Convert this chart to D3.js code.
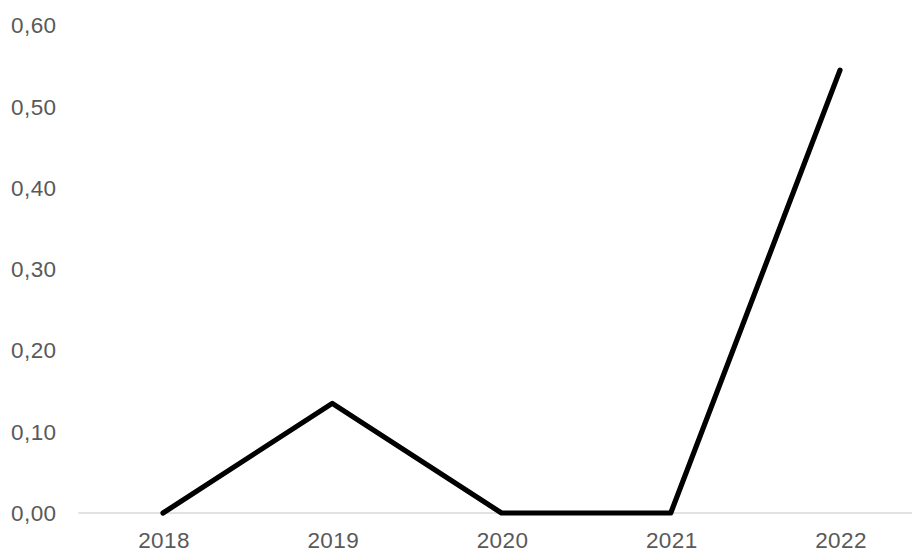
<!DOCTYPE html>
<html>
<head>
<meta charset="utf-8">
<script src="https://cdn.jsdelivr.net/npm/d3@7"></script>
<style>
  html, body { margin: 0; padding: 0; background: #fff; }
  svg { display: block; }
  text { font-family: "Liberation Sans", Arial, sans-serif; fill: #595959; }
</style>
</head>
<body>
<svg id="chart" width="912" height="553"></svg>
<script>
const years = ["2018", "2019", "2020", "2021", "2022"];
const values = [0.00, 0.135, 0.00, 0.00, 0.545];
const yTicks = [0, 0.1, 0.2, 0.3, 0.4, 0.5, 0.6];

const svg = d3.select("#chart");
const fmt = v => d3.format(".2f")(v).replace(".", ",");

const x = d3.scalePoint().domain(years).range([163, 840]);
const step = x.step();
const y = d3.scaleLinear().domain([0, 0.6]).range([513, 25.5]);

// y tick labels (no gridlines)
svg.append("g").selectAll("text")
  .data(yTicks).join("text")
  .attr("x", 56.5)
  .attr("y", d => y(d))
  .attr("dy", "0.35em")
  .attr("text-anchor", "end")
  .style("font-size", "22.5px")
  .style("letter-spacing", "0.4px")
  .text(fmt);

// baseline axis
svg.append("line")
  .attr("x1", x(years[0]) - step / 2)
  .attr("x2", x(years[years.length - 1]) + step / 2)
  .attr("y1", y(0)).attr("y2", y(0))
  .attr("stroke", "#d9d9d9")
  .attr("stroke-width", 1.5);

// x labels
svg.append("g").selectAll("text")
  .data(years).join("text")
  .attr("x", d => x(d) + 1)
  .attr("y", 548.3)
  .attr("text-anchor", "middle")
  .style("font-size", "22.5px")
  .style("letter-spacing", "0.4px")
  .text(d => d);

// series line
const line = d3.line()
  .x((d, i) => x(years[i]))
  .y(d => y(d));

svg.append("path")
  .datum(values)
  .attr("d", line)
  .attr("fill", "none")
  .attr("stroke", "#000")
  .attr("stroke-width", 5.2)
  .attr("stroke-linecap", "round")
  .attr("stroke-linejoin", "round");
</script>
</body>
</html>
